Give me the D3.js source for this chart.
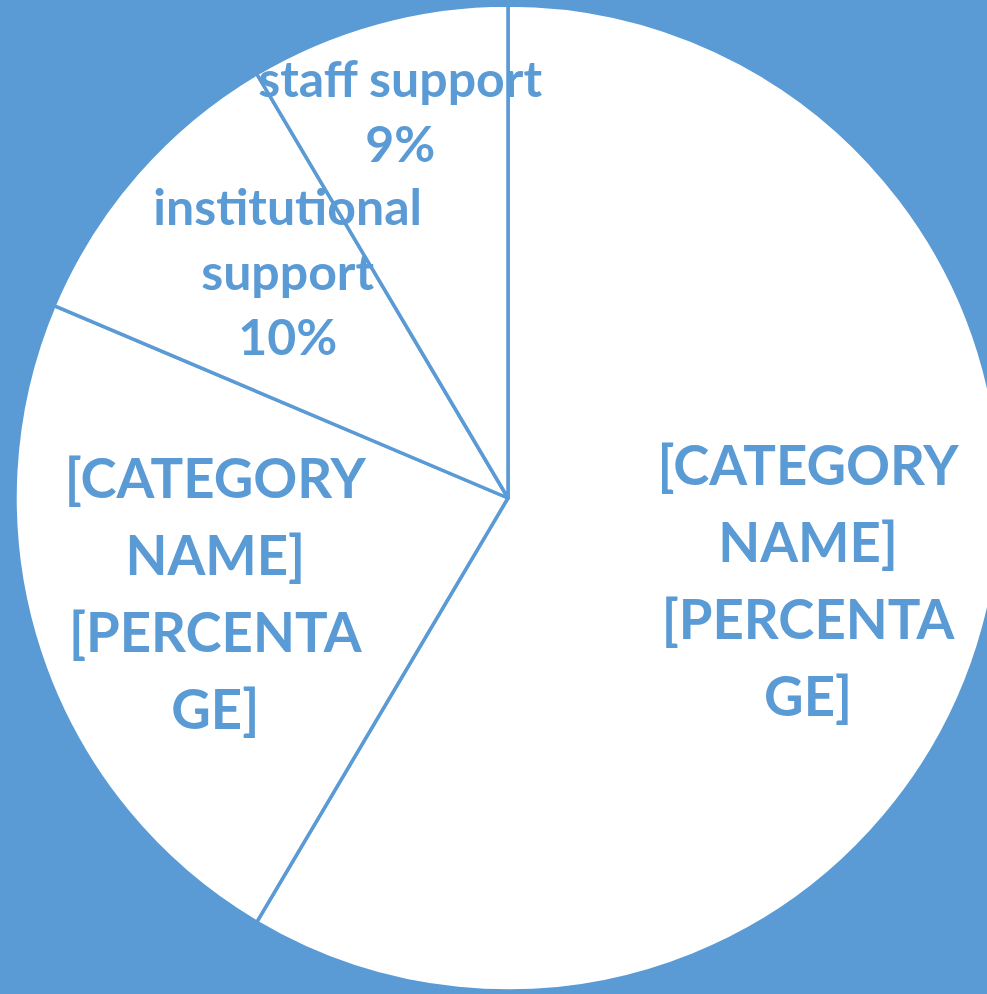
<!DOCTYPE html>
<html>
<head>
<meta charset="utf-8">
<script src="https://cdn.jsdelivr.net/npm/d3@7"></script>
<style>
  html, body { margin: 0; padding: 0; background: #5B9BD5; overflow: hidden; }
  svg { display: block; }
</style>
</head>
<body>
<svg id="chart" width="987" height="994"></svg>
<script>
// Responses by support category (counts)
const categories = ["[CATEGORY NAME]", "[CATEGORY NAME]", "institutional support", "staff support"];
const values = [110, 43, 19, 16];
const total = d3.sum(values);
const pct = v => Math.round(v / total * 100) + "%";
// Label text lines for each slice (placeholders where the category has no name yet)
const labelLines = [
  ["[CATEGORY", "NAME]", "[PERCENTA", "GE]"],
  ["[CATEGORY", "NAME]", "[PERCENTA", "GE]"],
  ["institutional", "support", pct(values[2])],
  ["staff support", pct(values[3])]
];

const W = 987, H = 994;
const cx = 508, cy = 498, R = 493;
const blue = "#5B9BD5";

// Label placement: fraction of radius, angle nudge (radians), font size, line step
const labelLayout = [
  { k: 0.632, da: 0.005, size: 54.5, step: 77 },
  { k: 0.625, da: 0.0, size: 54.5, step: 77 },
  { k: 0.64, da: 0.079, size: 50, step: 65 },
  { k: 0.813, da: -0.005, size: 50, step: 65 }
];

const svg = d3.select("#chart");
svg.append("rect").attr("width", W).attr("height", H).attr("fill", blue);

const g = svg.append("g").attr("transform", `translate(${cx},${cy})`);

const pie = d3.pie().sort(null).value(d => d).startAngle(0).endAngle(2 * Math.PI);
const arcs = pie(values);
const arc = d3.arc().innerRadius(0).outerRadius(R);

g.selectAll("path.slice")
  .data(arcs)
  .join("path")
  .attr("class", "slice")
  .attr("d", arc)
  .attr("fill", "#ffffff")
  .attr("stroke", blue)
  .attr("stroke-width", 3.5)
  .attr("stroke-linejoin", "round");

g.selectAll("text.label")
  .data(arcs)
  .join("text")
  .attr("class", "label")
  .attr("text-anchor", "middle")
  .attr("font-family", "Lato, 'Open Sans', sans-serif")
  .attr("font-weight", "bold")
  .attr("fill", blue)
  .each(function (d, i) {
    const L = labelLayout[i];
    const mid = (d.startAngle + d.endAngle) / 2 + L.da;
    const r = R * L.k;
    const x = Math.sin(mid) * r;
    const y = -Math.cos(mid) * r;
    const lines = labelLines[i];
    const t = d3.select(this).attr("font-size", L.size);
    lines.forEach((line, j) => {
      t.append("tspan")
        .attr("x", x)
        .attr("y", y + (j - (lines.length - 1) / 2) * L.step)
        .attr("dy", "0.35em")
        .text(line);
    });
  });
</script>
</body>
</html>
